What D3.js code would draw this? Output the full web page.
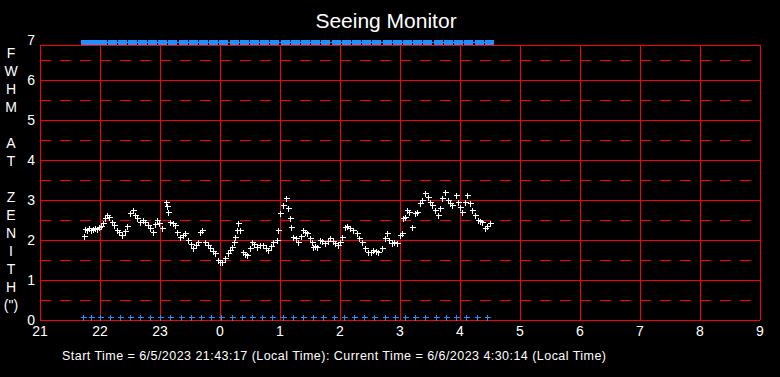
<!DOCTYPE html>
<html>
<head>
<meta charset="utf-8">
<script src="https://cdn.jsdelivr.net/npm/d3@7"></script>
<style>
  html, body { margin: 0; padding: 0; background: #000; }
  svg { display: block; font-family: "Liberation Sans", Arial, sans-serif; }
</style>
</head>
<body>
<svg id="seeing-chart"></svg>
<script>
// --- DATA ---
// FWHM samples (local clock time, arcsec)
const fwhmTimes = [
  "21:44","21:45","21:47","21:49","21:51","21:53","21:55","21:57","21:59","22:01",
  "22:03","22:05","22:07","22:09","22:12","22:14","22:17","22:19","22:22","22:25",
  "22:27","22:30","22:33","22:35","22:37","22:40","22:43","22:45","22:48","22:50",
  "22:53","22:55","22:57","22:59","23:02","23:06","23:07","23:08","23:10","23:13",
  "23:15","23:17","23:20","23:23","23:25","23:28","23:31","23:33","23:36","23:38",
  "23:40","23:42","23:45","23:48","23:50","23:53","23:55","23:58","0:00","0:02",
  "0:05","0:08","0:10","0:12","0:14","0:15","0:17","0:18","0:20","0:23",
  "0:25","0:27","0:30","0:32","0:34","0:37","0:40","0:43","0:46","0:48",
  "0:51","0:53","0:57","0:58","1:00","1:03","1:06","1:08","1:10","1:11",
  "1:13","1:16","1:18","1:21","1:23","1:25","1:27","1:30","1:32","1:33",
  "1:35","1:37","1:40","1:42","1:45","1:48","1:50","1:53","1:55","1:58",
  "2:00","2:02","2:05","2:07","2:10","2:13","2:17","2:19","2:22","2:25",
  "2:28","2:31","2:33","2:36","2:38","2:42","2:45","2:47","2:49","2:52",
  "2:54","2:57","3:00","3:02","3:03","3:05","3:07","3:09","3:12","3:15",
  "3:17","3:20","3:22","3:25","3:28","3:30","3:32","3:35","3:38","3:40",
  "3:42","3:45","3:48","3:50","3:52","3:56","3:58","4:00","4:02","4:05",
  "4:07","4:10","4:12","4:15","4:18","4:20","4:22","4:25","4:27","4:30"
];
const fwhmValues = [
  2.10,2.28,2.25,2.30,2.24,2.27,2.30,2.28,2.32,2.35,
  2.42,2.55,2.62,2.58,2.46,2.38,2.25,2.20,2.12,2.22,
  2.35,2.67,2.75,2.62,2.55,2.46,2.50,2.46,2.38,2.30,
  2.20,2.40,2.50,2.42,2.30,2.96,2.85,2.70,2.46,2.42,
  2.37,2.20,2.08,2.12,2.17,2.00,1.90,1.79,1.87,1.95,
  2.20,2.25,1.96,1.88,1.79,1.72,1.67,1.50,1.46,1.46,
  1.54,1.67,1.75,1.83,1.95,2.08,2.25,2.42,2.25,1.71,
  1.65,1.62,1.80,1.96,1.90,1.83,1.87,1.87,1.80,1.75,
  1.85,1.96,2.00,2.25,2.67,2.87,3.04,2.79,2.54,2.33,
  2.08,2.05,1.96,2.10,2.25,2.20,2.17,2.04,1.95,1.83,
  1.85,1.83,2.00,1.98,1.92,1.98,2.04,1.98,1.92,1.87,
  1.95,2.08,2.33,2.35,2.29,2.25,2.17,2.05,1.96,1.79,
  1.71,1.70,1.75,1.72,1.71,1.79,2.04,2.17,2.00,1.92,
  1.95,1.92,2.12,2.17,2.54,2.58,2.75,2.70,2.33,2.67,
  2.71,2.92,3.00,3.17,3.08,2.95,2.87,2.75,2.62,2.80,
  3.04,3.21,3.00,2.92,2.87,3.12,2.95,2.83,2.71,2.95,
  3.12,2.92,2.75,2.62,2.50,2.48,2.46,2.29,2.35,2.42
];
// status flags (blue markers at bottom and top)
const flagTimes = [
  "21:43","21:51","22:00","22:10","22:20","22:30","22:40","22:50","23:00","23:10",
  "23:21","23:31","23:41","23:51","0:01","0:12","0:22","0:32","0:42","0:52",
  "1:03","1:13","1:23","1:33","1:43","1:54","2:04","2:14","2:24","2:34",
  "2:45","2:55","3:05","3:15","3:25","3:36","3:46","3:56","4:06","4:17","4:27"
];
const hourTicks = [21, 22, 23, 24, 25, 26, 27, 28, 29, 30, 31, 32, 33];
const fwhmTicks = [0, 1, 2, 3, 4, 5, 6, 7];
const halfTicks = [0.5, 1.5, 2.5, 3.5, 4.5, 5.5, 6.5];
const yTitle = ["F", "W", "H", "M", "", "A", "T", "", "Z", "E", "N", "I", "T", "H", "(\")"];
const title = "Seeing Monitor";
const footer = "Start Time = 6/5/2023 21:43:17 (Local Time): Current Time = 6/6/2023 4:30:14 (Local Time)";

// clock string -> hours on a continuous night axis (21 .. 33)
function toHours(s) {
  const [h, m] = s.split(":").map(Number);
  return (h < 12 ? h + 24 : h) + m / 60;
}

const width = 780, height = 377;
const svg = d3.select("#seeing-chart")
  .attr("width", width)
  .attr("height", height)
  .attr("viewBox", [0, 0, width, height]);

svg.append("rect").attr("width", width).attr("height", height).attr("fill", "#000");

const x = d3.scaleLinear().domain([21, 33]).range([40, 760]);
const y = d3.scaleLinear().domain([0, 7]).range([320, 40]);
const plotTop = 45;
const red = "#ff0000";

// --- GRID ---
const grid = svg.append("g").attr("shape-rendering", "crispEdges");

grid.selectAll(".dash")
  .data(halfTicks)
  .join("line")
  .attr("x1", x(21)).attr("x2", x(33))
  .attr("y1", d => Math.round(y(d)) + 0.5).attr("y2", d => Math.round(y(d)) + 0.5)
  .attr("stroke", red)
  .attr("stroke-width", 1.5)
  .attr("stroke-dasharray", "11 9");

grid.selectAll(".hline")
  .data(fwhmTicks.filter(d => d > 0 && d < 7))
  .join("line")
  .attr("x1", x(21)).attr("x2", x(33))
  .attr("y1", d => Math.round(y(d)) + 0.5).attr("y2", d => Math.round(y(d)) + 0.5)
  .attr("stroke", red)
  .attr("stroke-width", 1.5);

grid.selectAll(".vline")
  .data(hourTicks)
  .join("line")
  .attr("x1", d => Math.round(x(d)) + 0.5).attr("x2", d => Math.round(x(d)) + 0.5)
  .attr("y1", plotTop).attr("y2", y(0))
  .attr("stroke", red)
  .attr("stroke-width", 1.5);

// top and bottom border
grid.selectAll(".border")
  .data([plotTop, y(0)])
  .join("line")
  .attr("x1", x(21)).attr("x2", x(33))
  .attr("y1", d => d + 0.5).attr("y2", d => d + 0.5)
  .attr("stroke", red)
  .attr("stroke-width", 1.5);

// --- AXIS LABELS ---
svg.append("g").selectAll("text")
  .data(fwhmTicks)
  .join("text")
  .attr("x", 35)
  .attr("y", d => y(d) + 5)
  .attr("text-anchor", "end")
  .attr("fill", "#fff")
  .attr("font-size", 14)
  .text(d => d);

svg.append("g").selectAll("text")
  .data(hourTicks)
  .join("text")
  .attr("x", d => x(d))
  .attr("y", 336)
  .attr("text-anchor", "middle")
  .attr("fill", "#fff")
  .attr("font-size", 14)
  .text(d => d % 24);

// vertical stacked y title
svg.append("g").selectAll("text")
  .data(yTitle)
  .join("text")
  .attr("x", 11)
  .attr("y", (d, i) => 58 + i * 18)
  .attr("text-anchor", "middle")
  .attr("fill", "#fff")
  .attr("font-size", 14)
  .text(d => d);

svg.append("text")
  .attr("x", 386)
  .attr("y", 28)
  .attr("text-anchor", "middle")
  .attr("fill", "#fff")
  .attr("font-size", 21)
  .text(title);

svg.append("text")
  .attr("x", 62)
  .attr("y", 360)
  .attr("fill", "#fff")
  .attr("font-size", 12.5)
  .attr("textLength", 544)
  .attr("lengthAdjust", "spacing")
  .text(footer);

// --- FLAGS ---
const blue = "#1e90ff";
const flags = svg.append("g").attr("shape-rendering", "crispEdges");

// top bar of status blocks
flags.append("line")
  .attr("x1", Math.round(x(toHours(flagTimes[0]))) - 1)
  .attr("x2", Math.round(x(toHours(flagTimes[flagTimes.length - 1]))) + 7)
  .attr("y1", 42.5).attr("y2", 42.5)
  .attr("stroke", blue);

flags.selectAll(".topflag")
  .data(flagTimes)
  .join("rect")
  .attr("x", d => Math.round(x(toHours(d))) - 2)
  .attr("y", Math.round(y(6.94)) - 2)
  .attr("width", 9)
  .attr("height", 5)
  .attr("fill", blue);

flags.selectAll(".lowflag")
  .data(flagTimes)
  .join("path")
  .attr("transform", d => `translate(${Math.round(x(toHours(d))) + 0.5},${Math.round(y(0.07)) + 0.5})`)
  .attr("d", "M-3,0H3M0,-3V3")
  .attr("stroke", blue)
  .attr("stroke-width", 1);

// --- FWHM POINTS ---
svg.append("g")
  .attr("shape-rendering", "crispEdges")
  .selectAll("path")
  .data(fwhmTimes.map((t, i) => [toHours(t), fwhmValues[i]]))
  .join("path")
  .attr("transform", d => `translate(${Math.round(x(d[0])) + 0.5},${Math.round(y(d[1])) + 0.5})`)
  .attr("d", "M-3,0H3M0,-3V3")
  .attr("stroke", "#fff")
  .attr("stroke-width", 1);
</script>
</body>
</html>
